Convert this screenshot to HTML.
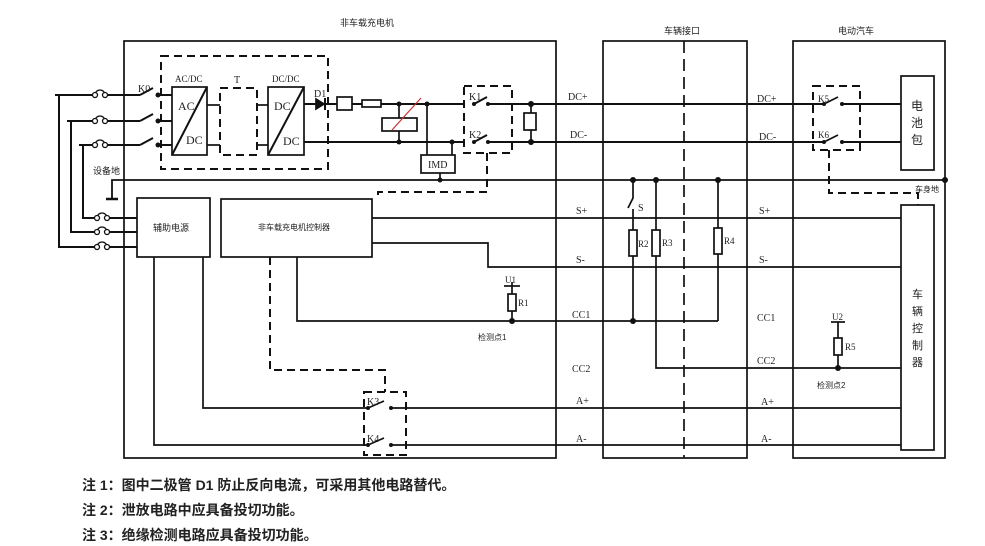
<!DOCTYPE html>
<html><head><meta charset="utf-8"><style>
html,body{margin:0;padding:0;background:#fff}
svg{display:block}
text{font-family:"Liberation Serif","Noto Serif CJK SC",serif;fill:#222}
.cn{font-family:"Liberation Sans","Noto Sans CJK SC",sans-serif}
</style></head><body>
<svg width="985" height="546" viewBox="0 0 985 546" xmlns="http://www.w3.org/2000/svg">
<g fill="none" stroke="#111" stroke-width="1.7">
<rect x="124" y="41" width="432" height="417"/>
<rect x="603" y="41" width="144" height="417"/>
<rect x="793" y="41" width="152" height="417"/>
<line x1="684" y1="41" x2="684" y2="458" stroke-dasharray="12,6"/>
<rect x="901" y="76" width="33" height="94"/>
<rect x="901" y="205" width="33" height="245"/>
<g stroke-width="2">
<line x1="55" y1="95" x2="92" y2="95"/><line x1="67" y1="121" x2="92" y2="121"/><line x1="79" y1="145" x2="92" y2="145"/>
<line x1="108" y1="95" x2="140" y2="95"/><line x1="108" y1="121" x2="140" y2="121"/><line x1="108" y1="145" x2="140" y2="145"/>
<polyline points="59,95 59,247 94,247"/><polyline points="71,121 71,232 94,232"/><polyline points="83,145 83,218 94,218"/>
<line x1="110" y1="247" x2="137" y2="247"/><line x1="110" y1="232" x2="137" y2="232"/><line x1="110" y1="218" x2="137" y2="218"/>
<line x1="140" y1="95" x2="153" y2="88"/><line x1="140" y1="121" x2="153" y2="114"/><line x1="140" y1="145" x2="153" y2="138"/>
<line x1="158" y1="95" x2="172" y2="95"/><line x1="158" y1="121" x2="172" y2="121"/><line x1="158" y1="145" x2="172" y2="145"/>
</g>
<g stroke-width="1.3">
<path d="M95,95 a5,5 0 0 1 10,0"/><circle cx="95" cy="95" r="2.5" fill="#fff"/><circle cx="105" cy="95" r="2.5" fill="#fff"/>
<path d="M95,121 a5,5 0 0 1 10,0"/><circle cx="95" cy="121" r="2.5" fill="#fff"/><circle cx="105" cy="121" r="2.5" fill="#fff"/>
<path d="M95,145 a5,5 0 0 1 10,0"/><circle cx="95" cy="145" r="2.5" fill="#fff"/><circle cx="105" cy="145" r="2.5" fill="#fff"/>
<path d="M97,218 a5,5 0 0 1 10,0"/><circle cx="97" cy="218" r="2.5" fill="#fff"/><circle cx="107" cy="218" r="2.5" fill="#fff"/>
<path d="M97,232 a5,5 0 0 1 10,0"/><circle cx="97" cy="232" r="2.5" fill="#fff"/><circle cx="107" cy="232" r="2.5" fill="#fff"/>
<path d="M97,247 a5,5 0 0 1 10,0"/><circle cx="97" cy="247" r="2.5" fill="#fff"/><circle cx="107" cy="247" r="2.5" fill="#fff"/>
</g>
<rect x="161" y="56" width="167" height="113" stroke-dasharray="8,5" stroke-width="2"/>
<rect x="172" y="87" width="35" height="68"/><line x1="172" y1="155" x2="207" y2="87" stroke-width="2"/>
<rect x="220" y="88" width="37" height="67" stroke-dasharray="8,5" stroke-width="2"/>
<rect x="268" y="87" width="36" height="68"/><line x1="268" y1="155" x2="304" y2="87" stroke-width="2"/>
<line x1="207" y1="105" x2="220" y2="105"/><line x1="207" y1="145" x2="220" y2="145"/>
<line x1="257" y1="105" x2="268" y2="105"/><line x1="257" y1="145" x2="268" y2="145"/>
<g stroke-width="2">
<line x1="304" y1="104" x2="337" y2="104"/><line x1="352" y1="104" x2="362" y2="104"/><line x1="381" y1="104" x2="464" y2="104"/>
<line x1="304" y1="142" x2="464" y2="142"/>
<line x1="488" y1="104" x2="824" y2="104"/><line x1="488" y1="142" x2="824" y2="142"/>
<line x1="842" y1="104" x2="901" y2="104"/><line x1="842" y1="142" x2="901" y2="142"/>
</g>
<polygon points="316,99 316,109 324,104" fill="#111"/><line x1="325" y1="98" x2="325" y2="110" stroke-width="2"/>
<rect x="337" y="97" width="15" height="13" fill="#fff"/>
<rect x="362" y="100" width="19" height="7" fill="#fff"/>
<line x1="399" y1="104" x2="399" y2="142"/>
<rect x="382" y="118" width="35" height="13" fill="#fff"/>
<line x1="392" y1="130" x2="421" y2="98" stroke="#c33" stroke-width="1.2"/>
<line x1="427" y1="104" x2="427" y2="155"/><line x1="452" y1="142" x2="452" y2="155"/>
<rect x="421" y="155" width="34" height="18" fill="#fff"/>
<line x1="440" y1="173" x2="440" y2="180"/>
<line x1="474" y1="104" x2="487" y2="97" stroke-width="2"/><line x1="474" y1="142" x2="487" y2="135" stroke-width="2"/>
<rect x="464" y="86" width="48" height="67" stroke-dasharray="8,5" stroke-width="2"/>
<polyline points="487,153 487,192 378,192 378,199" stroke-dasharray="8,5" stroke-width="2"/>
<line x1="531" y1="104" x2="531" y2="142"/>
<rect x="524" y="113" width="12" height="17" fill="#fff"/>
<polyline points="945,180 112,180 112,198" stroke-width="1.8"/>
<line x1="106" y1="199" x2="118" y2="199" stroke-width="2.5"/>
<rect x="137" y="198" width="73" height="59"/>
<rect x="221" y="199" width="151" height="58"/>
<line x1="372" y1="218" x2="901" y2="218"/>
<polyline points="372,243 488,243 488,267 901,267"/>
<polyline points="297,257 297,321 718,321"/>
<line x1="512" y1="282" x2="512" y2="321"/><line x1="504" y1="286" x2="520" y2="286"/>
<rect x="508" y="294" width="8" height="17" fill="#fff"/>
<polyline points="633,180 633,198 628,208"/><line x1="633" y1="209" x2="633" y2="321"/>
<rect x="629" y="230" width="8" height="26" fill="#fff"/>
<polyline points="656,180 656,368 901,368"/>
<rect x="652" y="230" width="8" height="26" fill="#fff"/>
<line x1="718" y1="180" x2="718" y2="321"/>
<rect x="714" y="228" width="8" height="26" fill="#fff"/>
<line x1="838" y1="322" x2="838" y2="368"/><line x1="831" y1="322" x2="845" y2="322"/>
<rect x="834" y="338" width="8" height="17" fill="#fff"/>
<polyline points="203,257 203,408 368,408"/><polyline points="154,257 154,445 368,445"/>
<line x1="368" y1="408" x2="384" y2="401"/><line x1="368" y1="445" x2="384" y2="438"/>
<line x1="391" y1="408" x2="901" y2="408"/><line x1="391" y1="445" x2="901" y2="445"/>
<rect x="364" y="392" width="42" height="63" stroke-dasharray="8,5" stroke-width="2"/>
<polyline points="270,257 270,370 385,370 385,392" stroke-dasharray="8,5" stroke-width="2"/>
<line x1="824" y1="104" x2="838" y2="97"/><line x1="824" y1="142" x2="838" y2="135"/>
<rect x="813" y="86" width="47" height="64" stroke-dasharray="8,5" stroke-width="2"/>
<polyline points="829,150 829,193 918,193 918,205" stroke-dasharray="8,5" stroke-width="2"/>
</g>
<g fill="#111">
<circle cx="158" cy="95" r="2.5"/><circle cx="158" cy="121" r="2.5"/><circle cx="158" cy="145" r="2.5"/>
<circle cx="399" cy="104" r="2.5"/><circle cx="399" cy="142" r="2.5"/><circle cx="427" cy="104" r="2.5"/><circle cx="452" cy="142" r="2.5"/><circle cx="440" cy="180" r="2.5"/>
<circle cx="474" cy="104" r="2"/><circle cx="474" cy="142" r="2"/><circle cx="488" cy="104" r="2"/><circle cx="488" cy="142" r="2"/>
<circle cx="824" cy="104" r="2"/><circle cx="824" cy="142" r="2"/><circle cx="842" cy="104" r="2"/><circle cx="842" cy="142" r="2"/>
<circle cx="368" cy="408" r="2"/><circle cx="368" cy="445" r="2"/><circle cx="391" cy="408" r="2"/><circle cx="391" cy="445" r="2"/>
<circle cx="531" cy="104" r="3"/><circle cx="531" cy="142" r="3"/>
<circle cx="633" cy="180" r="3"/><circle cx="656" cy="180" r="3"/><circle cx="718" cy="180" r="3"/><circle cx="945" cy="180" r="3"/>
<circle cx="633" cy="321" r="3"/><circle cx="512" cy="321" r="3"/><circle cx="838" cy="368" r="3"/>
</g>
<g font-size="10">
<text x="340" y="26" class="cn" font-size="9">非车载充电机</text>
<text x="664" y="34" class="cn" font-size="9">车辆接口</text>
<text x="838" y="34" class="cn" font-size="9">电动汽车</text>
<text x="138" y="92">K0</text>
<text x="175" y="82" font-size="9">AC/DC</text><text x="234" y="83">T</text><text x="272" y="82" font-size="9">DC/DC</text>
<text x="178" y="110" font-size="12">AC</text><text x="186" y="144" font-size="12">DC</text>
<text x="274" y="110" font-size="12">DC</text><text x="283" y="145" font-size="12">DC</text>
<text x="314" y="97">D1</text><text x="469" y="100">K1</text><text x="469" y="138">K2</text>
<text x="367" y="405">K3</text><text x="367" y="442">K4</text>
<text x="428" y="168">IMD</text>
<text x="93" y="174" class="cn" font-size="9">设备地</text>
<text x="153" y="231" class="cn" font-size="9">辅助电源</text>
<text x="258" y="230" class="cn" font-size="8">非车载充电机控制器</text>
<text x="568" y="100">DC+</text><text x="570" y="138">DC-</text>
<text x="576" y="214">S+</text><text x="576" y="263">S-</text>
<text x="572" y="318">CC1</text><text x="572" y="372">CC2</text>
<text x="576" y="404">A+</text><text x="576" y="442">A-</text>
<text x="757" y="102">DC+</text><text x="759" y="140">DC-</text>
<text x="759" y="214">S+</text><text x="759" y="263">S-</text>
<text x="757" y="321">CC1</text><text x="757" y="364">CC2</text>
<text x="761" y="405">A+</text><text x="761" y="442">A-</text>
<text x="818" y="102" font-size="9">K5</text><text x="818" y="138" font-size="9">K6</text>
<text x="638" y="211">S</text><text x="638" y="247" font-size="9">R2</text><text x="662" y="246" font-size="9">R3</text><text x="724" y="244" font-size="9">R4</text>
<text x="505" y="283" font-size="9">U1</text><text x="518" y="306" font-size="9">R1</text>
<text x="832" y="320" font-size="9">U2</text><text x="845" y="350" font-size="9">R5</text>
<text x="478" y="340" class="cn" font-size="8">检测点1</text>
<text x="817" y="388" class="cn" font-size="8">检测点2</text>
<text x="915" y="192" class="cn" font-size="8">车身地</text>
<text x="911" y="110" class="cn" font-size="12">电</text><text x="911" y="127" class="cn" font-size="12">池</text><text x="911" y="144" class="cn" font-size="12">包</text>
<text x="912" y="298" class="cn" font-size="11">车</text><text x="912" y="315" class="cn" font-size="11">辆</text><text x="912" y="332" class="cn" font-size="11">控</text><text x="912" y="349" class="cn" font-size="11">制</text><text x="912" y="366" class="cn" font-size="11">器</text>
</g>
<g class="cn" font-size="14" font-weight="bold">
<text x="82" y="490" class="cn">注 1：图中二极管 D1 防止反向电流，可采用其他电路替代。</text>
<text x="82" y="515" class="cn">注 2：泄放电路中应具备投切功能。</text>
<text x="82" y="540" class="cn">注 3：绝缘检测电路应具备投切功能。</text>
</g>
</svg>
</body></html>
